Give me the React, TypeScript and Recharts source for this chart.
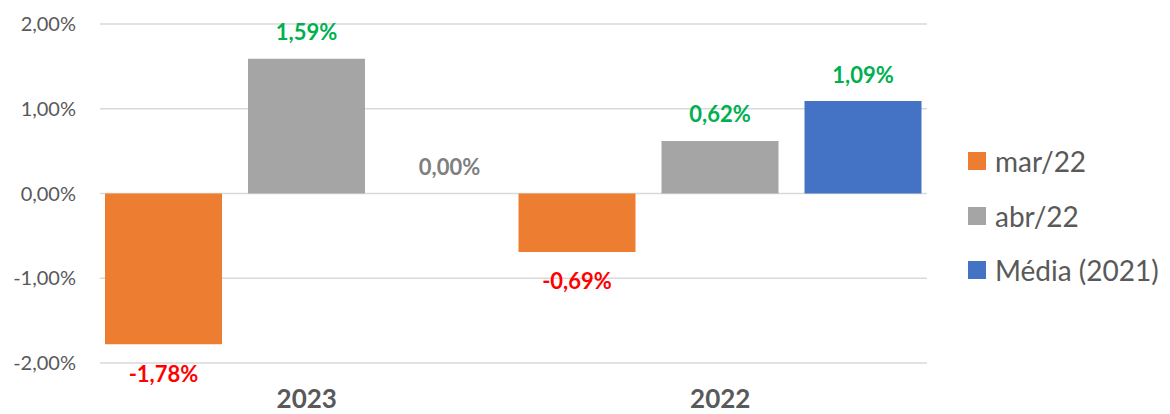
import React from "react";
import { BarChart, Bar, XAxis, YAxis, CartesianGrid, Legend, LabelList } from "recharts";

if (typeof document !== "undefined") {
  document.body.style.margin = "0";
}

const categories = ["2023", "2022"];
const marValues = [-1.78, -0.69];
const abrValues = [1.59, 0.62];
const mediaValues = [0.0, 1.09];
const yTicks = [-2, -1, 0, 1, 2];
const seriesNames = ["mar/22", "abr/22", "Média (2021)"];
const seriesKeys = ["mar", "abr", "media"];
const seriesColors = ["#ED7D31", "#A5A5A5", "#4472C4"];

const data = categories.map((c, i) => ({
  name: c,
  mar: marValues[i],
  abr: abrValues[i],
  media: mediaValues[i],
}));

const FONT = "Lato, 'Open Sans', sans-serif";
const TEXT = "#595959";

const fmt = (v: number) => v.toFixed(2).replace(".", ",") + "%";

const renderLabel = (props: any) => {
  const { x, y, width, height, value } = props;
  const v = Number(value);
  const h = Number(height) || 0;
  const top = Math.min(Number(y), Number(y) + h);
  const bottom = Math.max(Number(y), Number(y) + h);
  const cx = Number(x) + Number(width) / 2;
  const cy = v < 0 ? bottom + 29 : top - 27;
  const color = v > 0 ? "#00B050" : v < 0 ? "#FF0000" : "#7F7F7F";
  return (
    <text
      x={cx}
      y={cy}
      textAnchor="middle"
      dominantBaseline="central"
      fill={color}
      fontFamily={FONT}
      fontWeight={700}
      fontSize={22}
    >
      {fmt(v)}
    </text>
  );
};

const renderLegend = () => (
  <div style={{ fontFamily: FONT, fontSize: 28, color: TEXT }}>
    {seriesNames.map((n, i) => (
      <div key={n} style={{ display: "flex", alignItems: "center", height: 54.5 }}>
        <span
          style={{
            display: "inline-block",
            width: 18,
            height: 18,
            background: seriesColors[i],
            marginRight: 9,
          }}
        />
        <span style={{ whiteSpace: "nowrap" }}>{n}</span>
      </div>
    ))}
  </div>
);

const minSize = (v: any) => (Number(v) === 0 ? 0.01 : 0);

export default function App() {
  return (
    <div style={{ width: 1170, height: 414, background: "#fff" }}>
      <BarChart
        width={1170}
        height={414}
        data={data}
        margin={{ top: 24, right: 243, bottom: 0, left: 0 }}
        barSize={117}
        barGap={26}
      >
        <CartesianGrid vertical={false} stroke="#D9D9D9" strokeWidth={1.5} />
        <XAxis
          dataKey="name"
          height={51}
          axisLine={false}
          tickLine={false}
          tickSize={0}
          tickMargin={27}
          tick={{ fill: TEXT, fontFamily: FONT, fontWeight: 700, fontSize: 26 }}
        />
        <YAxis
          width={100}
          domain={[-2, 2]}
          ticks={yTicks}
          axisLine={false}
          tickLine={false}
          tickSize={0}
          tickMargin={24}
          tickFormatter={fmt}
          tick={{ fill: TEXT, fontFamily: FONT, fontSize: 20 }}
        />
        <Legend
          layout="horizontal"
          verticalAlign="middle"
          align="center"
          wrapperStyle={{ left: 968, top: 134, width: 202 }}
          content={renderLegend}
        />
        {seriesKeys.map((k, i) => (
          <Bar
            key={k}
            dataKey={k}
            name={seriesNames[i]}
            fill={seriesColors[i]}
            minPointSize={minSize}
            isAnimationActive={false}
          >
            <LabelList dataKey={k} content={renderLabel} />
          </Bar>
        ))}
      </BarChart>
    </div>
  );
}
